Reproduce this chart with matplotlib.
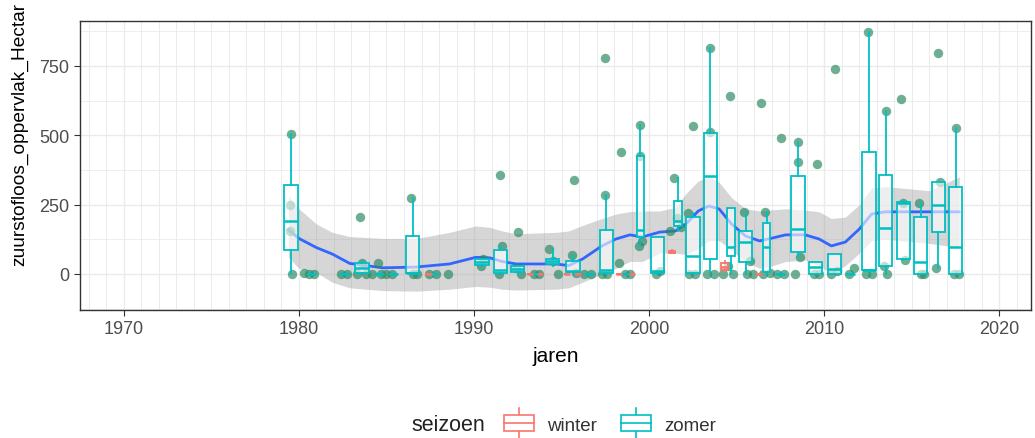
import matplotlib
matplotlib.use("Agg")
import matplotlib.pyplot as plt
import numpy as np
from matplotlib.patches import Patch, Rectangle
from matplotlib.lines import Line2D
from matplotlib.legend_handler import HandlerBase

# ---------------- data ----------------
# zomer boxplots: position (year), lower whisker, q1, median, q3, upper whisker
zomer_pos = [1979.55, 1983.6, 1986.5, 1990.45, 1991.5, 1992.5, 1994.5, 1995.65, 1997.55,
             1999.5, 2000.45, 2001.65, 2002.5, 2003.5, 2004.65, 2005.5, 2006.7, 2008.5,
             2009.5, 2010.6, 2012.55, 2013.5, 2014.5, 2015.5, 2016.5, 2017.5]
zomer_lo = [0, 0, 0, 30, 0, 0, 30, 0, 0, 100, 0, 155, 0, 0, 0, 0, 0, 60, 0, 0, 0, 0, 50, 0, 20, 0]
zomer_q1 = [87, 3, 3, 32, 5, 7, 36, 7, 5, 133, 4, 174, 4, 54, 65, 43, 7, 79, 0, 0, 14, 29, 54, 0, 151, 0]
zomer_med = [191, 20, 5, 43, 14, 18, 45, 12, 15, 159, 12, 192, 65, 354, 97, 115, 97, 162, 25, 18, 14, 166, 255, 43, 249, 97]
zomer_q3 = [321, 40, 137, 54, 87, 29, 54, 47, 159, 425, 133, 262, 205, 508, 238, 155, 184, 354, 43, 72, 440, 357, 260, 205, 332, 314]
zomer_hi = [505, 45, 275, 55, 100, 30, 90, 70, 285, 537, 133, 345, 220, 815, 238, 225, 225, 476, 43, 72, 873, 588, 260, 255, 332, 527]
# zomer years where all values are 0 (collapsed boxes)
zomer_zero_pos = [1980.7, 1982.6, 1984.6, 1985.4, 1987.7, 1993.5, 1996.6, 1998.7, 2007.5, 2011.5]

# winter boxplots
winter_pos = [1987.4, 1993.2, 1993.75, 1995.3, 1995.95, 1998.3, 1999.0, 2001.3, 2004.3, 2006.25]
winter_lo = [0, 0, 0, 0, 0, 0, 0, 75, 10, 0]
winter_q1 = [0, 0, 0, 0, 0, 0, 0, 77, 15, 0]
winter_med = [0, 0, 0, 0, 0, 0, 0, 80, 25, 0]
winter_q3 = [0, 0, 0, 0, 0, 0, 0, 82, 40, 0]
winter_hi = [0, 0, 0, 0, 0, 0, 0, 85, 45, 0]

# observations (jittered positions)
pts_x = [1979.55, 1979.6, 1979.5, 1979.5, 1980.3, 1980.6, 1980.85,
         1982.4, 1982.75, 1983.3, 1983.5, 1983.6, 1983.85, 1984.2, 1984.5, 1984.7, 1984.95, 1985.3,
         1986.4, 1986.5, 1986.75, 1987.45, 1987.8, 1988.5,
         1990.4, 1990.5, 1991.5, 1991.6, 1991.4, 1992.5, 1992.4, 1992.7, 1993.4, 1993.7,
         1994.3, 1994.5, 1994.8, 1995.7, 1995.6, 1995.8, 1996.3, 1996.65,
         1997.5, 1997.5, 1997.6, 1997.3, 1998.4, 1998.3, 1998.6, 1998.9,
         1999.5, 1999.5, 1999.6, 1999.4, 2000.4, 2000.6,
         2001.2, 2001.4, 2001.6, 2001.8, 2002.2, 2002.5, 2002.6, 2002.3,
         2003.5, 2003.5, 2003.3, 2003.7, 2004.6, 2004.2, 2004.8, 2004.5,
         2005.4, 2005.6, 2005.75, 2005.9, 2006.4, 2006.6, 2006.5, 2006.9,
         2007.5, 2007.3, 2007.7, 2008.5, 2008.5, 2008.3, 2008.6,
         2009.6, 2009.4, 2009.7, 2010.6, 2010.4, 2010.7, 2011.4, 2011.7,
         2012.5, 2012.4, 2012.7, 2013.5, 2013.4, 2013.6,
         2014.4, 2014.5, 2014.6, 2015.4, 2015.5, 2015.7,
         2016.5, 2016.4, 2016.6, 2017.5, 2017.4, 2017.7]
pts_y = [505, 0, 250, 155, 5, 0, 0,
         0, 0, 0, 205, 40, 0, 0, 40, 0, 0, 0,
         275, 0, 0, 0, 0, 0,
         30, 55, 355, 100, 0, 150, 20, 0, 0, 0,
         90, 45, 0, 340, 70, 5, 0, 0,
         780, 285, 0, 0, 440, 40, 0, 0,
         537, 425, 120, 100, 0, 10,
         155, 345, 200, 170, 220, 535, 0, 0,
         815, 510, 0, 0, 640, 0, 0, 30,
         225, 0, 45, 0, 615, 225, 0, 5,
         490, 0, 0, 475, 405, 0, 60,
         395, 0, 0, 740, 0, 10, 0, 20,
         873, 0, 0, 588, 30, 0,
         630, 255, 50, 255, 0, 0,
         795, 20, 330, 527, 0, 0]

# loess smooth with confidence band
smooth_x = [1979.4, 1980.0, 1981.0, 1981.9, 1982.9, 1984.8, 1986.7, 1988.6, 1990.1, 1990.9,
            1991.6, 1992.4, 1994.7, 1995.4, 1996.2, 1997.3, 1998.1, 1998.9, 1999.6, 2000.6,
            2001.5, 2002.1, 2002.8, 2003.4, 2004.0, 2004.7, 2005.5, 2006.3, 2006.8, 2007.8,
            2008.9, 2009.7, 2010.4, 2011.2, 2012.0, 2012.7, 2013.5, 2016.0, 2017.7]
smooth_y = [160, 128, 95, 72, 38, 22, 25, 36, 60, 58,
            45, 36, 36, 30, 54, 101, 126, 141, 133, 151,
            155, 180, 227, 245, 234, 180, 137, 119, 126, 141,
            141, 126, 101, 115, 162, 216, 224, 224, 224]
smooth_hi = [280, 235, 180, 150, 135, 128, 128, 150, 173, 168,
             155, 145, 150, 155, 175, 200, 216, 225, 227, 227,
             240, 290, 335, 350, 330, 275, 235, 227, 230, 235,
             230, 224, 200, 205, 250, 310, 315, 300, 350]
smooth_lo = [60, 20, 5, -30, -50, -60, -62, -55, -45, -48,
             -55, -58, -55, -50, -30, 0, 20, 45, 45, 75,
             75, 70, 90, 120, 120, 85, 45, 20, 25, 45,
             50, 30, 0, 30, 75, 120, 125, 110, 95]

x_ticks = [1970, 1980, 1990, 2000, 2010, 2020]
y_ticks = [0, 250, 500, 750]

# ---------------- style ----------------
ZOMER = "#00BFC4"
WINTER = "#F8766D"
PT = "#2a8a60"
narrow_years = [1999.5, 2001.65, 2004.65, 2006.7]

plt.rcParams["font.family"] = ["Liberation Sans", "DejaVu Sans"]

fig = plt.figure(figsize=(10.35, 4.39), dpi=100)
ax = fig.add_axes([80 / 1035, 1 - 311 / 439, (1031 - 80) / 1035, (311 - 22) / 439])

ax.set_xlim(1967.5, 2021.8)
ax.set_ylim(-130, 912)
ax.set_facecolor("white")

# grid
for yr in range(1968, 2022):
    ax.axvline(yr, color="#EBEBEB", lw=1.0 if yr % 10 == 0 else 0.7, zorder=0)
for v in [-125, 0, 125, 250, 375, 500, 625, 750, 875]:
    ax.axhline(v, color="#EBEBEB", lw=1.0 if v % 250 == 0 else 0.6, zorder=0)

# ribbon and smooth
ax.fill_between(smooth_x, smooth_lo, smooth_hi, color="#999999", alpha=0.4, lw=0, zorder=1)
ax.plot(smooth_x, smooth_y, color="#3366FF", lw=2.0, zorder=2)

# points
ax.scatter(pts_x, pts_y, s=46, color=PT, alpha=0.68, lw=0, zorder=3)


def make_stats(pos, lo, q1, med, q3, hi):
    out = []
    for p, a, b, c, d, e in zip(pos, lo, q1, med, q3, hi):
        out.append(dict(whislo=a, q1=b, med=c, q3=d, whishi=e, fliers=[]))
    return out


def draw_boxes(stats, positions, color, widths):
    ax.bxp(stats, positions=positions, widths=widths, showcaps=False, showfliers=False,
           patch_artist=True, manage_ticks=False,
           boxprops=dict(facecolor=(1, 1, 1, 0.6), edgecolor=color, lw=1.3),
           whiskerprops=dict(color=color, lw=1.3),
           medianprops=dict(color=color, lw=1.8), zorder=4)


zstats = make_stats(zomer_pos, zomer_lo, zomer_q1, zomer_med, zomer_q3, zomer_hi)
zw = [0.45 if p in narrow_years else 0.75 for p in zomer_pos]
draw_boxes(zstats, zomer_pos, ZOMER, zw)
zz = [0.0] * len(zomer_zero_pos)
draw_boxes(make_stats(zomer_zero_pos, zz, zz, zz, zz, zz), zomer_zero_pos, ZOMER, 0.5)
wstats = make_stats(winter_pos, winter_lo, winter_q1, winter_med, winter_q3, winter_hi)
draw_boxes(wstats, winter_pos, WINTER, 0.35)

# axes styling
ax.set_xticks(x_ticks)
ax.set_xticklabels([str(t) for t in x_ticks])
ax.set_yticks(y_ticks)
ax.set_yticklabels([str(t) for t in y_ticks])
ax.tick_params(axis="both", colors="#333333", labelcolor="#4D4D4D", labelsize=13, length=4, width=0.8)
for s in ax.spines.values():
    s.set_color("#333333")
    s.set_linewidth(1.0)
ax.set_xlabel("jaren", fontsize=15, color="black", labelpad=6)
ax.set_ylabel("zuurstofloos_oppervlak_Hectar", fontsize=13.8, color="black")
ax.yaxis.set_label_coords(-52 / 951, 0.612)


# legend
class BoxHandler(HandlerBase):
    def create_artists(self, legend, orig_handle, xdescent, ydescent, width, height, fontsize, trans):
        c = orig_handle.get_edgecolor()
        cx = width / 2 - xdescent
        bw = width * 0.9
        bh = height * 1.1
        y0 = -ydescent + height / 2
        r = Rectangle((cx - bw / 2, y0 - bh / 2), bw, bh, facecolor="white", edgecolor=c, lw=1.2, transform=trans)
        l1 = Line2D([cx, cx], [y0 - height * 1.1, y0 + height * 1.1], color=c, lw=1.2, transform=trans)
        l2 = Line2D([cx - bw / 2, cx + bw / 2], [y0, y0], color=c, lw=1.2, transform=trans)
        return [l1, r, l2]


handles = [Patch(edgecolor=WINTER, facecolor="white"), Patch(edgecolor=ZOMER, facecolor="white")]
fig.text(411 / 1035, 1 - 426 / 439, "seizoen", fontsize=15.5, color="#222222", va="center", ha="left")
leg = fig.legend(handles, ["winter", "zomer"], handler_map={Patch: BoxHandler()}, ncol=2,
                 loc="center left", bbox_to_anchor=(502 / 1035, 1 - 426 / 439), frameon=False,
                 fontsize=13.5, handlelength=1.8, handleheight=0.8, handletextpad=0.6, columnspacing=1.2,
                 borderaxespad=0, borderpad=0)
for t in leg.get_texts():
    t.set_color("#333333")

fig.savefig("out.png", dpi=100, facecolor="white")
